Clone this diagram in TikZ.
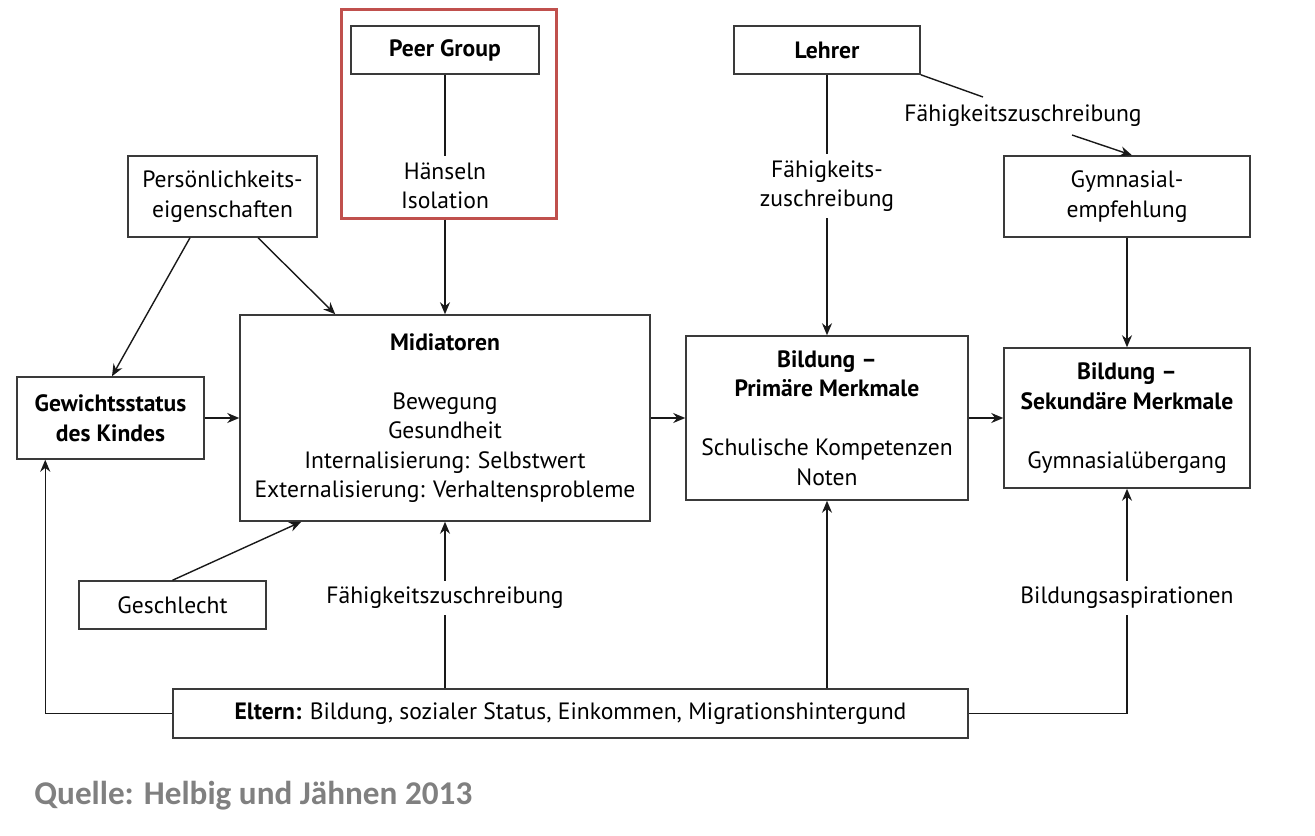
\documentclass[tikz,border=0pt]{standalone}
\usepackage{fontspec}
\setmainfont{PT Sans}
\newfontfamily\quellefont{Carlito}
\usetikzlibrary{arrows.meta,calc}
\definecolor{framered}{HTML}{C0504D}
\definecolor{boxline}{HTML}{3A3A3A}
\definecolor{quellegray}{HTML}{808080}
\begin{document}
\begin{tikzpicture}[x=0.5pt,y=-0.5pt,
  txt/.style={font=\fontsize{11.8}{14.75}\selectfont},
  box/.style={txt,draw=boxline,line width=0.75pt,inner sep=0pt,align=center},
  lab/.style={txt,align=center,inner sep=3pt},
  ln/.style={line width=0.7pt,draw=black!90},
  arr/.style={ln,-{Stealth[length=6pt,width=5pt]}}]
\useasboundingbox (0,0) rectangle (1315,835);
% red frame
\node[draw=framered,line width=1.5pt,minimum width=107.5pt,minimum height=104.5pt,inner sep=0pt] (peerframe) at (448.5,113.5) {};
% boxes
\node[box,minimum width=94pt,minimum height=24pt] (peer) at (445,50) {\textbf{Peer Group}};
\node[lab] (haensel) at (445,186) {Hänseln\\Isolation};
\node[box,minimum width=94.5pt,minimum height=40.5pt] (pers) at (222.5,196.5) {Persönlichkeits-\\eigenschaften};
\node[box,minimum width=93.5pt,minimum height=41pt] (gew) at (110.5,418) {\textbf{Gewichtsstatus}\\\textbf{des Kindes}};
\node[box,minimum width=205pt,minimum height=103pt] (mid) at (445,418) {\textbf{Midiatoren}\\[14.75pt]Bewegung\\Gesundheit\\Internalisierung: Selbstwert\\Externalisierung: Verhaltensprobleme};
\node[box,minimum width=141pt,minimum height=82pt] (prim) at (827,418) {\textbf{Bildung –}\\\textbf{Primäre Merkmale}\\[14.75pt]Schulische Kompetenzen\\Noten};
\node[box,minimum width=123pt,minimum height=70pt] (sek) at (1127,418) {\textbf{Bildung –}\\\textbf{Sekundäre Merkmale}\\[14.75pt]Gymnasialübergang};
\node[box,minimum width=93pt,minimum height=24pt] (lehrer) at (827,50) {\textbf{Lehrer}};
\node[box,minimum width=123pt,minimum height=40.5pt] (gym) at (1127,196.5) {Gymnasial-\\empfehlung};
\node[box,minimum width=93.5pt,minimum height=24pt] (gesch) at (172.5,605) {Geschlecht};
\node[box,minimum width=397.5pt,minimum height=24.5pt] (eltern) at (570.5,713.5) {\textbf{Eltern:} Bildung, sozialer Status, Einkommen, Migrationshintergund};
% labels
\node[lab] (llab) at (827,186) {Fähigkeits-\\zuschreibung};
\node[lab] (llab2) at (1023,116) {Fähigkeitszuschreibung};
\node[lab] (elab) at (445,598) {Fähigkeitszuschreibung};
\node[lab] (blab) at (1127,598) {Bildungsaspirationen};
\node[anchor=west,inner sep=0pt,text=quellegray,font=\quellefont\bfseries\fontsize{16.6}{19}\selectfont] (quelle) at (34,796) {Quelle: Helbig und Jähnen 2013};
\coordinate (l2a) at (983,97);
\coordinate (l2b) at (1072,135);
% connectors
\draw[ln] (peer.south) -- (haensel.north);
\draw[arr] (haensel.south |- peerframe.south) -- (haensel.south |- mid.north);
\draw[arr] ([xshift=-16.25pt]pers.south) -- ([xshift=0.75pt]gew.north);
\draw[arr] ([xshift=17.75pt]pers.south) -- ([xshift=48pt]mid.north west);
\draw[arr] (gew.east) -- (mid.west);
\draw[arr] (mid.east) -- (prim.west);
\draw[arr] (prim.east) -- (sek.west);
\draw[ln] (lehrer.south) -- (llab.north);
\draw[arr] (llab.south) -- (prim.north);
\draw[ln] (lehrer.south east) -- (l2a);
\draw[arr] (l2b) -- ([xshift=2.5pt]gym.north);
\draw[arr] (gym.south) -- (sek.north);
\draw[arr] (gesch.north) -- ([xshift=31pt]mid.south west);
\draw[arr] (eltern.west) -| ([xshift=14.5pt]gew.south west);
\draw[ln] (mid.south |- eltern.north) -- (elab.south);
\draw[arr] (elab.north) -- (mid.south);
\draw[arr] (prim.south |- eltern.north) -- (prim.south);
\draw[ln] (eltern.east) -| (blab.south);
\draw[arr] (blab.north) -- (sek.south);
\end{tikzpicture}
\end{document}
